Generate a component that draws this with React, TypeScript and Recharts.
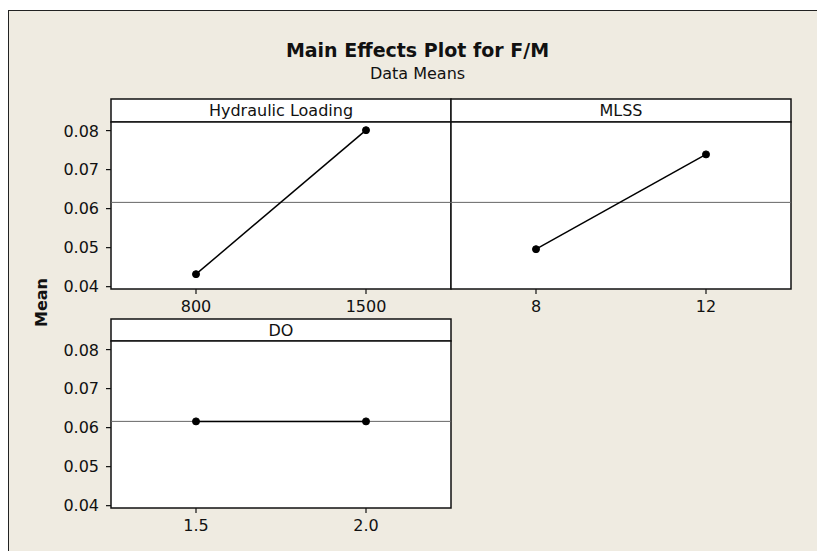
import React from "react";
import { LineChart, Line, XAxis, YAxis, ReferenceLine } from "recharts";

const hydraulicLevels = ["800", "1500"];
const hydraulicMeans = [0.0432, 0.0801];
const mlssLevels = ["8", "12"];
const mlssMeans = [0.0496, 0.0739];
const doLevels = ["1.5", "2.0"];
const doMeans = [0.0616, 0.0616];
const grandMean = 0.0616;
const meanTicks = [0.04, 0.05, 0.06, 0.07, 0.08];

const toRows = (levels, means) =>
  levels.map((level, i) => ({ level, mean: means[i] }));

const FONT = "'DejaVu Sans', Verdana, sans-serif";
const BG = "#EFEBE1";

const Panel = ({ rows, left, top, showY }) => {
  const yWidth = showY ? 60 : 0;
  return (
    <div style={{ position: "absolute", left: left - yWidth, top }}>
      <LineChart
        width={340 + yWidth}
        height={197}
        data={rows}
        margin={{ top: 0, right: 0, bottom: 0, left: 0 }}
      >
        <XAxis
          dataKey="level"
          height={30}
          padding={{ left: 85, right: 85 }}
          axisLine={false}
          tickSize={5}
          tickMargin={7}
          tickLine={{ stroke: "#111", strokeWidth: 1.2 }}
          tick={{ fontSize: 16, fill: "#111", fontFamily: FONT }}
        />
        <YAxis
          hide={!showY}
          width={yWidth}
          type="number"
          domain={[0.0394, 0.0822]}
          ticks={meanTicks}
          allowDataOverflow
          axisLine={false}
          tickSize={5}
          tickMargin={7}
          tickLine={{ stroke: "#111", strokeWidth: 1.2 }}
          tickFormatter={(v) => v.toFixed(2)}
          tick={{ fontSize: 16, fill: "#111", fontFamily: FONT }}
        />
        <ReferenceLine y={grandMean} stroke="#666" strokeWidth={1} />
        <Line
          type="linear"
          dataKey="mean"
          stroke="#000"
          strokeWidth={1.5}
          dot={{ r: 3.5, fill: "#000", stroke: "#000", strokeWidth: 1 }}
          isAnimationActive={false}
        />
      </LineChart>
    </div>
  );
};

const Frame = ({ x, top, stripTop, bottom, label }) => (
  <g>
    <rect x={x} y={stripTop} width={340} height={top - stripTop} fill="#fff" stroke="#111" strokeWidth={1.5} />
    <rect x={x} y={top} width={340} height={bottom - top} fill="#fff" stroke="#111" strokeWidth={1.5} />
    <text x={x + 170} y={(stripTop + top) / 2} textAnchor="middle" dominantBaseline="central" fontSize={16} fontFamily={FONT} fill="#111">
      {label}
    </text>
  </g>
);

export default function App() {
  return (
    <div style={{ position: "absolute", left: 0, top: 0, width: 817, height: 551, background: "#fff", overflow: "hidden" }}>
      <svg width={817} height={551} style={{ position: "absolute", left: 0, top: 0 }}>
        <rect x={8} y={10} width={809} height={541} fill={BG} />
        <line x1={8.5} y1={10} x2={8.5} y2={551} stroke="#222" strokeWidth={1} />
        <line x1={8} y1={10.5} x2={817} y2={10.5} stroke="#222" strokeWidth={1} />
        <text x={417.5} y={57} textAnchor="middle" fontSize={19} fontWeight="bold" fontFamily={FONT} fill="#111">
          Main Effects Plot for F/M
        </text>
        <text x={417.5} y={79} textAnchor="middle" fontSize={16} fontFamily={FONT} fill="#111">
          Data Means
        </text>
        <text
          x={41.5}
          y={302.5}
          transform="rotate(-90 41.5 302.5)"
          textAnchor="middle"
          dominantBaseline="central"
          fontSize={16}
          fontWeight="bold"
          fontFamily={FONT}
          fill="#111"
        >
          Mean
        </text>
        <Frame x={111} stripTop={99} top={122} bottom={289} label="Hydraulic Loading" />
        <Frame x={451} stripTop={99} top={122} bottom={289} label="MLSS" />
        <Frame x={111} stripTop={319} top={341} bottom={508} label="DO" />
      </svg>
      <Panel rows={toRows(hydraulicLevels, hydraulicMeans)} left={111} top={122} showY />
      <Panel rows={toRows(mlssLevels, mlssMeans)} left={451} top={122} showY={false} />
      <Panel rows={toRows(doLevels, doMeans)} left={111} top={341} showY />
    </div>
  );
}
